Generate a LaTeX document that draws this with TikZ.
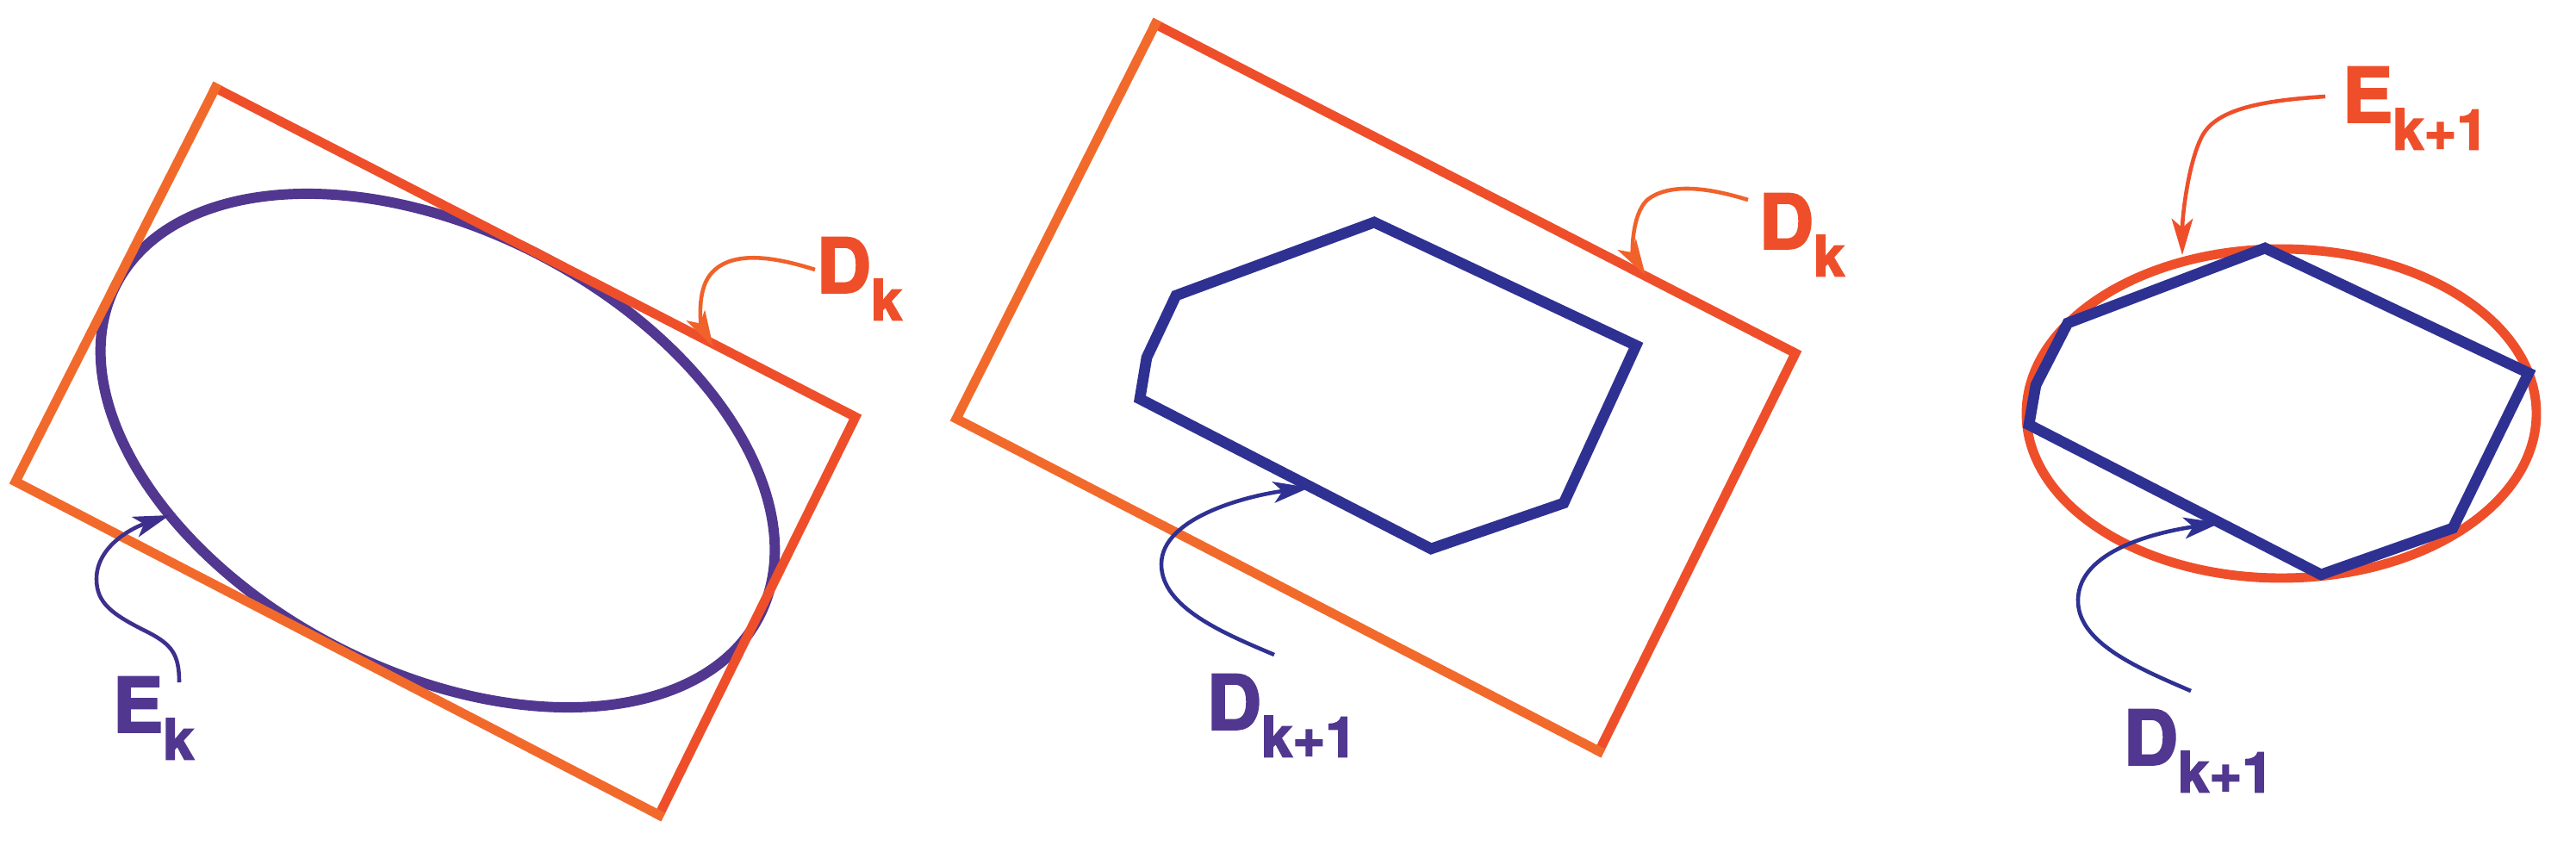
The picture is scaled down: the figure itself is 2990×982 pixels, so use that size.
\documentclass[tikz,border=0pt]{standalone}
\usepackage{fontspec}
\setmainfont{texgyreheros}[Extension=.otf,UprightFont=*-regular,BoldFont=*-bold,BoldFeatures={FakeBold=2.5}]
\usetikzlibrary{arrows.meta}
\definecolor{dred}{HTML}{EE4F2A}
\definecolor{dorange}{HTML}{F26A2B}
\definecolor{arrorange}{HTML}{F0622A}
\definecolor{epurple}{HTML}{51378F}
\definecolor{arrpurple}{HTML}{3F2F8D}
\definecolor{pblue}{HTML}{2E3192}
\newcommand{\setlbl}[2]{{\fontsize{25}{25}\selectfont\bfseries #1}\raisebox{-9pt}{\fontsize{18.5}{18.5}\selectfont\bfseries #2}}
\tikzset{
	lbl/.style={inner sep=0pt,anchor=north west},
	edge/.style={line width=3.1pt,line cap=rect},
	pointer/.style={line width=1.3pt,-{Stealth[length=12pt,width=7pt,inset=3pt]}},
}
\begin{document}
\begin{tikzpicture}[x=0.01cm,y=-0.01cm]
			\useasboundingbox (0,0) rectangle (2990,982);
			% left: E_k in D_k
			\coordinate (T1) at (250,102);
			\coordinate (R1) at (993,484);
			\coordinate (B1) at (765,946);
			\coordinate (L1) at (18,559);
			\draw[epurple,line width=3.4pt,rotate around={-27.3:(508,523)}] (508,523) ellipse [x radius=420,y radius=256];
			\draw[edge,dred] (T1) -- (R1) -- (B1);
			\draw[edge,dorange] (B1) -- (L1) -- (T1);
			\coordinate (tip1) at (828,403);
			\coordinate (tip2) at (197,598);
			\node[lbl,text=dred] (dk1) at (947,275) {\setlbl{D}{k}};
			\node[lbl,text=epurple] (ek1) at (130,785) {\setlbl{E}{k}};
			\draw[pointer,arrorange] ([shift={(-1,38)}]dk1.north west) .. controls (905,300) and (850,288) .. (825,318) .. controls (808,338) and (814,378) .. (tip1);
			\draw[pointer,arrpurple] ([shift={(78,7)}]ek1.north west) .. controls (208,760) and (200,748) .. (170,733) .. controls (130,713) and (112,700) .. (112,672) .. controls (112,636) and (150,614) .. (tip2);
			% middle: D_k+1 in D_k
			\coordinate (T2) at (1341,28);
			\coordinate (R2) at (2084,410);
			\coordinate (B2) at (1856,872);
			\coordinate (L2) at (1110,486);
			\draw[edge,dred] (T2) -- (R2) -- (B2);
			\draw[edge,dorange] (B2) -- (L2) -- (T2);
			\draw[pblue,line width=3.6pt] (1595,258) -- (1899,401) -- (1815,584) -- (1661,637) -- (1323,463) -- (1331,415) -- (1365,343) -- cycle;
			\coordinate (tip3) at (1910,320);
			\coordinate (tip4) at (1520,566);
			\node[lbl,text=dred] (dk2) at (2041,224) {\setlbl{D}{k}};
			\node[lbl,text=epurple] (dn2) at (1400,782) {\setlbl{D}{k+1}};
			\draw[pointer,arrorange] ([shift={(-12,8)}]dk2.north west) .. controls (1990,220) and (1940,210) .. (1912,232) .. controls (1893,250) and (1895,295) .. (tip3);
			\draw[pointer,pblue] ([shift={(79,-22)}]dn2.north west) .. controls (1420,735) and (1348,705) .. (1348,655) .. controls (1348,600) and (1450,575) .. (tip4);
			% right: E_k+1 round D_k+1
			\draw[dred,line width=3.1pt] (2648,480) ellipse [x radius=296,y radius=191];
			\draw[pblue,line width=3.6pt] (2629,288) -- (2935,433) -- (2847,613) -- (2694,667) -- (2355,493) -- (2363,447) -- (2400,375) -- cycle;
			\coordinate (tip5) at (2533,296);
			\coordinate (tip6) at (2577,607);
			\node[lbl,text=dred] (en3) at (2718,77) {\setlbl{E}{k+1}};
			\node[lbl,text=epurple] (dn3) at (2464,823) {\setlbl{D}{k+1}};
			\draw[pointer,dred] ([shift={(-19,35)}]en3.north west) .. controls (2620,117) and (2570,128) .. (2555,160) .. controls (2540,190) and (2533,250) .. (tip5);
			\draw[pointer,pblue] ([shift={(79,-21)}]dn3.north west) .. controls (2480,775) and (2410,745) .. (2412,695) .. controls (2414,640) and (2500,618) .. (tip6);
		\end{tikzpicture}
\end{document}
